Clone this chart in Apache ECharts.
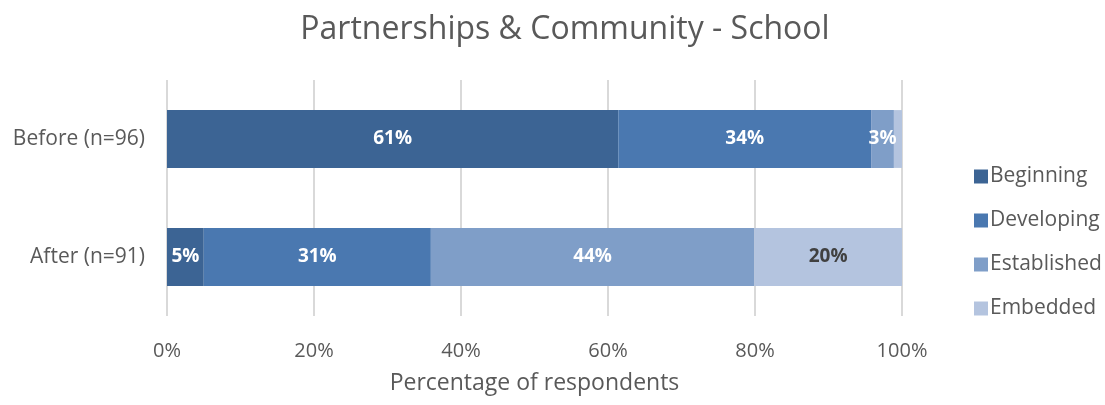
<!DOCTYPE html>
<html>
<head>
<meta charset="utf-8">
<script src="https://cdn.jsdelivr.net/npm/echarts@6/dist/echarts.min.js"></script>
<style>
  html, body { margin: 0; padding: 0; background: #fff; }
  #chart { width: 1105px; height: 405px; }
</style>
</head>
<body>
<div id="chart"></div>
<script>
// Survey groups (top to bottom) and stage names
const groups = ['Before (n=96)', 'After (n=91)'];
const stages = ['Beginning', 'Developing', 'Established', 'Embedded'];

// Share of respondents (%) at each stage, per group
const beginning   = [61.4, 5.0];
const developing  = [34.4, 30.9];
const established = [3.1, 44.0];
const embedded    = [1.1, 20.1];

const xTicks = [0, 20, 40, 60, 80, 100];

const colors = ['#3c6494', '#4a78b0', '#7f9ec8', '#b4c4df'];
const labelColors = ['#ffffff', '#ffffff', '#ffffff', '#404040'];
const seriesValues = [beginning, developing, established, embedded];
const FONT = '"Open Sans", "Noto Sans", sans-serif';

const chart = echarts.init(document.getElementById('chart'));
chart.setOption({
  animation: false,
  textStyle: { fontFamily: FONT },
  title: {
    text: 'Partnerships & Community - School',
    left: 560, top: 9, textAlign: 'center',
    textStyle: { fontFamily: FONT, fontSize: 32, fontWeight: 'normal', color: '#595959' }
  },
  legend: {
    orient: 'vertical',
    left: 969, top: 161,
    itemGap: 23,
    itemWidth: 14, itemHeight: 14,
    icon: 'rect',
    data: stages,
    textStyle: { fontFamily: FONT, fontSize: 21, color: '#595959', padding: [0, 0, 0, -3] }
  },
  grid: { left: 167, right: 203, top: 80, bottom: 89, containLabel: false },
  xAxis: {
    type: 'value', min: 0, max: 100, interval: 20,
    name: 'Percentage of respondents',
    nameLocation: 'middle', nameGap: 56,
    nameTextStyle: { fontFamily: FONT, fontSize: 23, color: '#595959' },
    axisLabel: {
      fontFamily: FONT, fontSize: 20, color: '#595959', margin: 25,
      formatter: v => xTicks.includes(v) ? v + '%' : ''
    },
    axisLine: { show: false },
    axisTick: { show: false },
    splitLine: { show: true, lineStyle: { color: '#d9d9d9', width: 2 } }
  },
  yAxis: {
    type: 'category', data: groups, inverse: true,
    axisLabel: { fontFamily: FONT, fontSize: 21, color: '#595959', margin: 22 },
    axisLine: { show: false },
    axisTick: { show: false }
  },
  series: stages.map((name, i) => ({
    name,
    type: 'bar',
    stack: 'total',
    barWidth: '49%',
    itemStyle: { color: colors[i] },
    emphasis: { disabled: true },
    label: {
      show: true,
      position: 'inside',
      fontFamily: FONT, fontSize: 19, fontWeight: 'bold',
      color: labelColors[i],
      formatter: p => p.value >= 2 ? Math.round(p.value) + '%' : ''
    },
    data: seriesValues[i]
  }))
});
</script>
</body>
</html>
